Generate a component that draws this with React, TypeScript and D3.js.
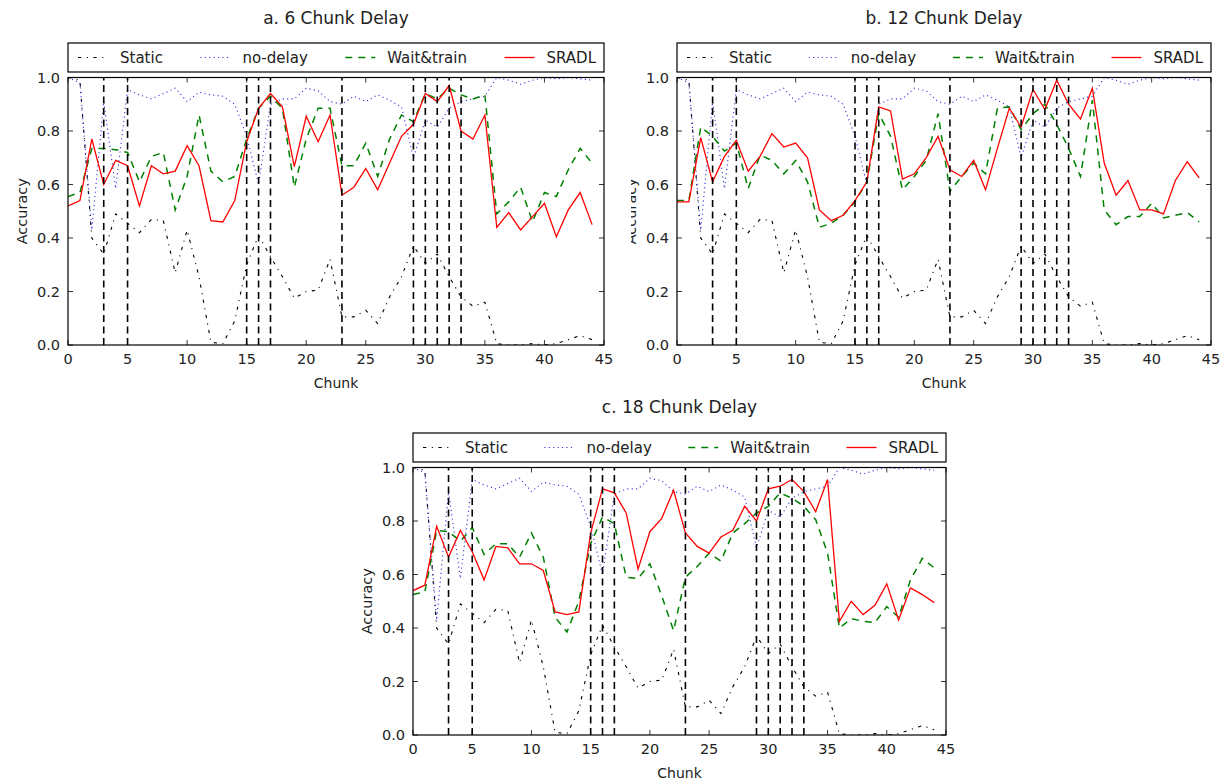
import React from "react";
import * as d3 from "d3";

// chunk index 0..44
const chunks = d3.range(45);

// shared baselines (identical in all three panels)
const staticAcc = [
  1.0, 0.99, 0.4, 0.34, 0.49, 0.455, 0.42, 0.47, 0.465, 0.27, 0.43, 0.255, 0.01, 0.005, 0.09,
  0.3, 0.41, 0.33, 0.255, 0.175, 0.2, 0.205, 0.32, 0.105, 0.105, 0.13, 0.08, 0.18, 0.255, 0.37,
  0.305, 0.34, 0.255, 0.18, 0.145, 0.16, 0.005, 0.0, 0.0, 0.005, 0.0, 0.005, 0.02, 0.035, 0.02,
];
const noDelayAcc = [
  1.0, 0.98, 0.43, 0.91, 0.585, 0.955, 0.935, 0.92, 0.94, 0.96, 0.91, 0.945, 0.935, 0.93, 0.9,
  0.78, 0.6, 0.9, 0.92, 0.92, 0.96, 0.95, 0.91, 0.9, 0.93, 0.91, 0.935, 0.915, 0.89, 0.7,
  0.84, 0.815, 0.885, 0.91, 0.92, 0.93, 1.0, 0.99, 0.975, 0.99, 1.0, 0.995, 1.0, 0.995, 0.99,
];

// a. 6 chunk delay
const waitTrain6 = [
  0.555, 0.57, 0.735, 0.735, 0.73, 0.72, 0.61, 0.705, 0.72, 0.505, 0.63, 0.86, 0.65, 0.61, 0.63,
  0.77, 0.885, 0.93, 0.885, 0.59, 0.77, 0.885, 0.885, 0.67, 0.67, 0.755, 0.63, 0.77, 0.86, 0.835,
  0.94, 0.92, 0.96, 0.935, 0.92, 0.935, 0.49, 0.535, 0.59, 0.46, 0.57, 0.555, 0.655, 0.735, 0.68,
];
const sradl6 = [
  0.52, 0.54, 0.77, 0.6, 0.69, 0.67, 0.52, 0.67, 0.64, 0.65, 0.745, 0.67, 0.465, 0.46, 0.54,
  0.76, 0.885, 0.94, 0.89, 0.667, 0.855, 0.76, 0.86, 0.56, 0.59, 0.66, 0.58, 0.68, 0.78, 0.825,
  0.94, 0.91, 0.97, 0.8, 0.77, 0.86, 0.44, 0.495, 0.43, 0.48, 0.53, 0.405, 0.505, 0.57, 0.45,
];

// b. 12 chunk delay
const waitTrain12 = [
  0.54, 0.54, 0.815, 0.78, 0.725, 0.755, 0.585, 0.71, 0.69, 0.64, 0.69, 0.61, 0.44, 0.455, 0.485,
  0.535, 0.61, 0.865, 0.78, 0.58, 0.63, 0.69, 0.865, 0.575, 0.63, 0.68, 0.64, 0.885, 0.89, 0.805,
  0.865, 0.9, 0.825, 0.735, 0.63, 0.915, 0.505, 0.45, 0.48, 0.48, 0.53, 0.475, 0.485, 0.495, 0.46,
];
const sradl12 = [
  0.535, 0.535, 0.775, 0.61, 0.705, 0.765, 0.65, 0.705, 0.79, 0.74, 0.755, 0.7, 0.505, 0.465, 0.485,
  0.54, 0.61, 0.89, 0.875, 0.62, 0.64, 0.7, 0.78, 0.655, 0.63, 0.69, 0.58, 0.735, 0.885, 0.815,
  0.955, 0.88, 0.99, 0.9, 0.845, 0.96, 0.68, 0.56, 0.615, 0.505, 0.505, 0.49, 0.615, 0.685, 0.625,
];

// c. 18 chunk delay
const waitTrain18 = [
  0.525, 0.535, 0.765, 0.76, 0.725, 0.775, 0.675, 0.715, 0.715, 0.665, 0.755, 0.665, 0.44, 0.385, 0.5,
  0.715, 0.815, 0.79, 0.59, 0.585, 0.64, 0.52, 0.39, 0.59, 0.63, 0.68, 0.65, 0.755, 0.79, 0.83,
  0.855, 0.905, 0.885, 0.855, 0.805, 0.68, 0.4, 0.435, 0.425, 0.42, 0.48, 0.44, 0.58, 0.66, 0.625,
];
const sradl18 = [
  0.54, 0.56, 0.78, 0.665, 0.765, 0.685, 0.58, 0.705, 0.7, 0.64, 0.64, 0.615, 0.46, 0.45, 0.46,
  0.755, 0.92, 0.905, 0.83, 0.62, 0.76, 0.81, 0.915, 0.755, 0.705, 0.68, 0.74, 0.765, 0.855, 0.8,
  0.92, 0.93, 0.955, 0.91, 0.835, 0.955, 0.425, 0.5, 0.45, 0.485, 0.565, 0.43, 0.55, 0.525, 0.495,
];

const driftChunks = [3, 5, 15, 16, 17, 23, 29, 30, 31, 32, 33];
const xTicks = [0, 5, 10, 15, 20, 25, 30, 35, 40, 45];
const yTicks = [0, 0.2, 0.4, 0.6, 0.8, 1.0];
const seriesNames = ["Static", "no-delay", "Wait&train", "SRADL"];

const FONT = '"DejaVu Sans", sans-serif';

const styles = [
  { color: "#000000", width: 1.1, dash: "3.3,5.5,1.1,5.5" },
  { color: "#2a2ae0", width: 1.1, dash: "1.1,3.3" },
  { color: "#008000", width: 1.5, dash: "7,6" },
  { color: "#ff0000", width: 1.3, dash: "none" },
];

const panels = [
  { id: "a", title: "a. 6 Chunk Delay", wait: waitTrain6, sradl: sradl6, x0: 68, x1: 604, top: 77.5, bottom: 345, labelClip: null },
  { id: "b", title: "b. 12 Chunk Delay", wait: waitTrain12, sradl: sradl12, x0: 677, x1: 1211, top: 77.5, bottom: 345, labelClip: 631 },
  { id: "c", title: "c. 18 Chunk Delay", wait: waitTrain18, sradl: sradl18, x0: 413, x1: 946, top: 467.5, bottom: 735, labelClip: null },
];

let ctx: CanvasRenderingContext2D | null = null;
function textWidth(s: string, size: number) {
  if (!ctx) ctx = document.createElement("canvas").getContext("2d");
  if (!ctx) return s.length * size * 0.6;
  ctx.font = `${size}px "DejaVu Sans"`;
  return ctx.measureText(s).width;
}

function Panel({ p }: { p: (typeof panels)[number] }) {
  const x = d3.scaleLinear().domain([0, 45]).range([p.x0, p.x1]);
  const y = d3.scaleLinear().domain([0, 1]).range([p.bottom, p.top]);
  const line = d3
    .line<number>()
    .x((_, i) => x(chunks[i]))
    .y((d) => y(d));
  const data = [staticAcc, noDelayAcc, p.wait, p.sradl];
  const w = p.x1 - p.x0;
  const cy = (p.top + p.bottom) / 2;

  // legend (expand mode, 4 columns)
  const legFont = 15;
  const handleLen = 30;
  const handlePad = 12;
  const legTop = p.top - 34.5;
  const legH = 29;
  const widths = seriesNames.map((n) => handleLen + handlePad + textWidth(n, legFont));
  const gap = (w - 18 - d3.sum(widths)) / 3;
  let cursor = p.x0 + 10;
  const legendItems = seriesNames.map((n, i) => {
    const start = cursor;
    cursor += widths[i] + gap;
    return { n, start, style: styles[i] };
  });
  const legMid = legTop + legH / 2;

  return (
    <g>
      <defs>
        <clipPath id={`clip-${p.id}`}>
          <rect x={p.x0} y={p.top} width={w} height={p.bottom - p.top} />
        </clipPath>
        {p.labelClip !== null && (
          <clipPath id={`lab-${p.id}`}>
            <rect x={p.labelClip} y={0} width={p.x0 - p.labelClip} height={783} />
          </clipPath>
        )}
      </defs>
      <text x={(p.x0 + p.x1) / 2} y={p.id === "c" ? legTop - 20 : 24} textAnchor="middle" fontSize={17} fontFamily={FONT} fill="#222">
        {p.title}
      </text>

      {/* legend box */}
      <rect x={p.x0} y={legTop} width={w} height={legH} fill="#fff" stroke="#000" strokeWidth={1.2} />
      {legendItems.map((it) => (
        <g key={it.n}>
          <line
            x1={it.start}
            x2={it.start + handleLen}
            y1={legMid}
            y2={legMid}
            stroke={it.style.color}
            strokeWidth={it.style.width}
            strokeDasharray={it.style.dash}
          />
          <text x={it.start + handleLen + handlePad} y={legMid + 5.5} fontSize={legFont} fontFamily={FONT} fill="#222">
            {it.n}
          </text>
        </g>
      ))}

      {/* data */}
      <g clipPath={`url(#clip-${p.id})`}>
        {data.map((d, i) => (
          <path
            key={i}
            d={line(d) || ""}
            fill="none"
            stroke={styles[i].color}
            strokeWidth={styles[i].width}
            strokeDasharray={styles[i].dash}
          />
        ))}
        {driftChunks.map((c) => (
          <line key={c} x1={x(c)} x2={x(c)} y1={p.bottom} y2={p.top} stroke="#000" strokeWidth={1.6} strokeDasharray="7,4.5" />
        ))}
      </g>

      {/* frame */}
      <rect x={p.x0} y={p.top} width={w} height={p.bottom - p.top} fill="none" stroke="#000" strokeWidth={1.2} />

      {/* ticks */}
      {xTicks.map((t) => (
        <g key={`x${t}`}>
          <line x1={x(t)} x2={x(t)} y1={p.bottom} y2={p.bottom - 5} stroke="#000" strokeWidth={0.8} />
          <line x1={x(t)} x2={x(t)} y1={p.top} y2={p.top + 5} stroke="#000" strokeWidth={0.8} />
          <text x={x(t)} y={p.bottom + 19} textAnchor="middle" fontSize={14.5} fontFamily={FONT} fill="#222">
            {t}
          </text>
        </g>
      ))}
      {yTicks.map((t) => (
        <g key={`y${t}`}>
          <line x1={p.x0} x2={p.x0 + 5} y1={y(t)} y2={y(t)} stroke="#000" strokeWidth={0.8} />
          <line x1={p.x1} x2={p.x1 - 5} y1={y(t)} y2={y(t)} stroke="#000" strokeWidth={0.8} />
          <text x={p.x0 - 8} y={y(t) + 5} textAnchor="end" fontSize={14.5} fontFamily={FONT} fill="#222">
            {t.toFixed(1)}
          </text>
        </g>
      ))}

      <text x={(p.x0 + p.x1) / 2} y={p.bottom + 43} textAnchor="middle" fontSize={14} fontFamily={FONT} fill="#222">
        Chunk
      </text>
      <g clipPath={p.labelClip !== null ? `url(#lab-${p.id})` : undefined}>
        <text
          transform={`translate(${p.x0 - 41},${cy}) rotate(-90)`}
          textAnchor="middle"
          fontSize={14.5}
          fontFamily={FONT}
          fill="#222"
        >
          Accuracy
        </text>
      </g>
    </g>
  );
}

export default function App() {
  return (
    <svg
      width={1230}
      height={783}
      viewBox="0 0 1230 783"
      style={{ position: "absolute", left: 0, top: 0, background: "#fff" }}
    >
      <rect width={1230} height={783} fill="#fff" />
      {panels.map((p) => (
        <Panel key={p.id} p={p} />
      ))}
    </svg>
  );
}
